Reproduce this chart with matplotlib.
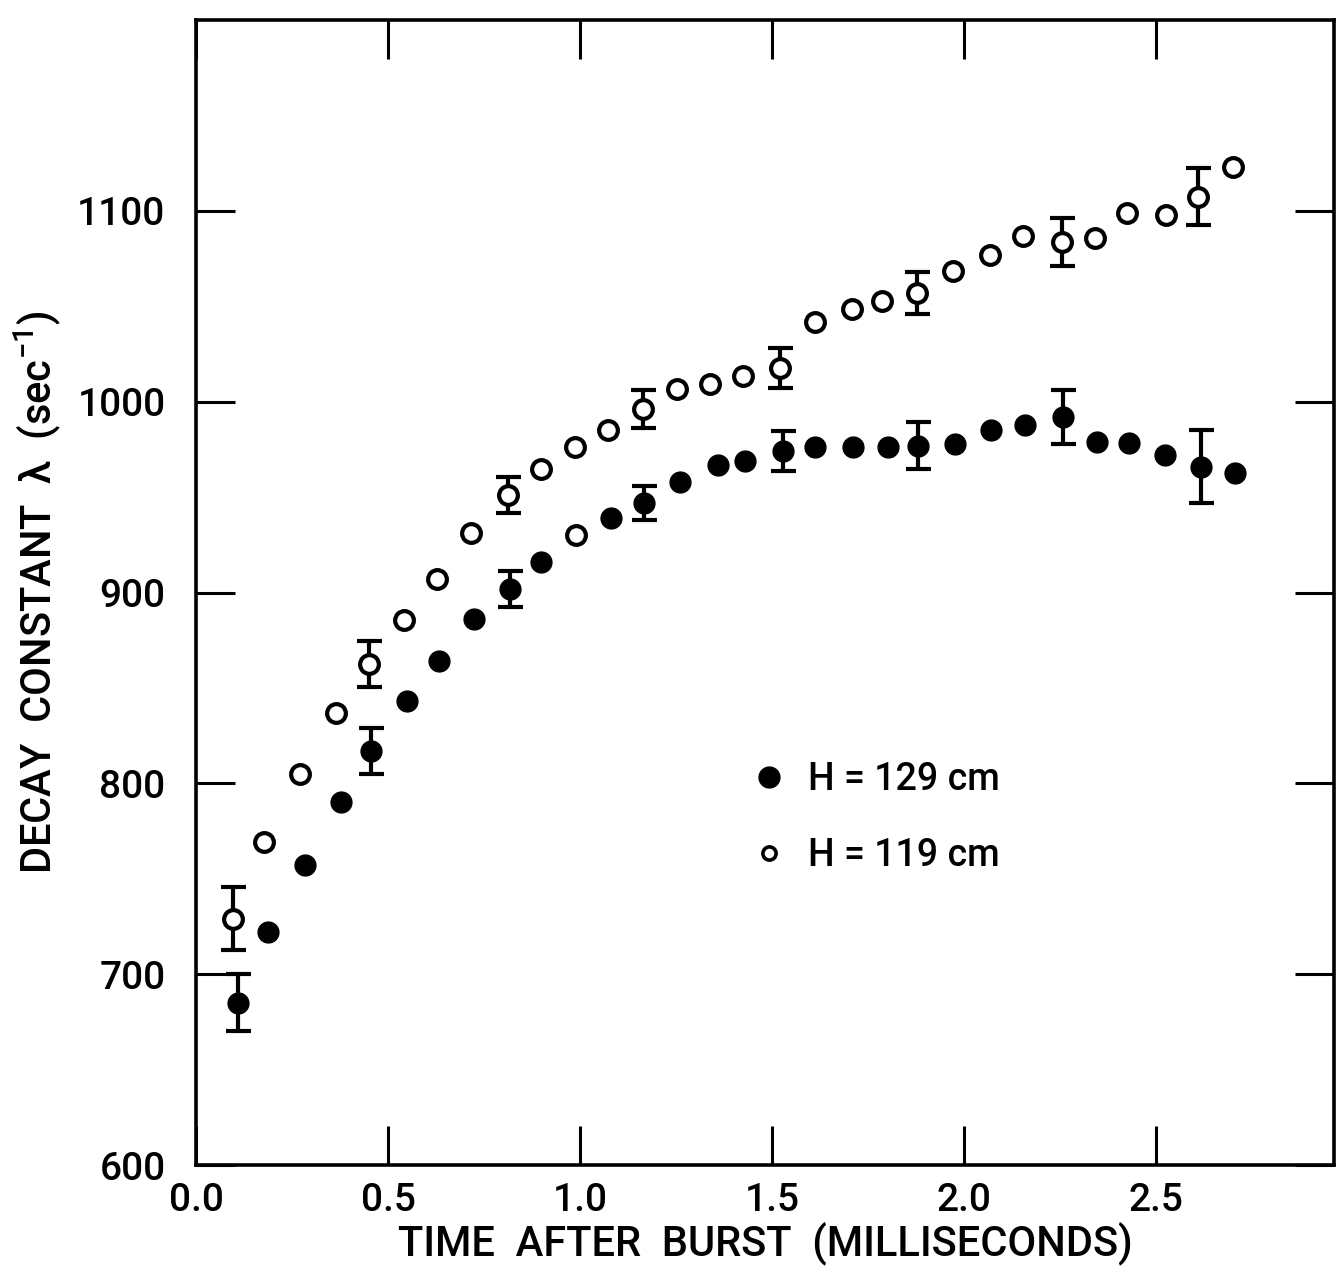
import matplotlib
matplotlib.use("Agg")
import matplotlib.pyplot as plt
from matplotlib.lines import Line2D
import numpy as np

# H = 129 cm (filled circles); time in ms, decay constant in 1/sec
t_129 = [0.109, 0.188, 0.284, 0.378, 0.456, 0.549, 0.633, 0.724, 0.818, 0.898,
         0.990, 1.081, 1.167, 1.260, 1.359, 1.430, 1.529, 1.612, 1.711, 1.802,
         1.880, 1.977, 2.070, 2.159, 2.258, 2.346, 2.430, 2.523, 2.617, 2.706]
lam_129 = [685, 722, 757, 790, 817, 843, 864, 886, 902, 916,
           930, 939, 947, 958, 967, 969, 974, 976, 976, 976.5,
           977, 978, 985, 988, 992, 979, 978.5, 972, 966, 962.5]
err_129 = [15, 0, 0, 0, 12, 0, 0, 0, 9.5, 0,
           0, 0, 9, 0, 0, 0, 10.5, 0, 0, 0,
           12.5, 0, 0, 0, 14, 0, 0, 0, 19, 0]
# this one point came out hollow in the print
hollow_129 = [10]

# H = 119 cm (open circles)
t_119 = [0.096, 0.177, 0.271, 0.365, 0.450, 0.542, 0.628, 0.716, 0.813, 0.898,
         0.987, 1.073, 1.164, 1.253, 1.339, 1.424, 1.521, 1.612, 1.708, 1.786,
         1.878, 1.971, 2.068, 2.154, 2.255, 2.341, 2.424, 2.526, 2.609, 2.700]
lam_119 = [729, 769, 805, 837, 862.5, 885.5, 907, 931, 951, 964.5,
           976, 985, 996, 1006.5, 1009, 1013.5, 1017.5, 1042, 1048.5, 1052.5,
           1057, 1068.5, 1077, 1087, 1083.5, 1086, 1099, 1098, 1107.5, 1123]
err_119 = [16.5, 0, 0, 0, 12, 0, 0, 0, 9.5, 0,
           0, 0, 10, 0, 0, 0, 10.5, 0, 0, 0,
           11, 0, 0, 0, 12.5, 0, 0, 0, 15, 0]

x_ticks = [0.0, 0.5, 1.0, 1.5, 2.0, 2.5]
x_ticklabels = ["0.0", "0.5", "1.0", "1.5", "2.0", "2.5"]
y_ticks = [600, 700, 800, 900, 1000, 1100]

plt.rcParams["font.family"] = ["Roboto", "DejaVu Sans"]
plt.rcParams["font.weight"] = "medium"
plt.rcParams["axes.labelweight"] = "medium"
plt.rcParams["mathtext.default"] = "regular"

W, H = 1336, 1266
fig = plt.figure(figsize=(W / 100, H / 100), dpi=100)
ax = fig.add_axes([196 / W, 1 - 1165 / H, (1334 - 196) / W, (1165 - 20) / H])
ax.set_xlim(0, 2.964)
ax.set_ylim(600, 1200)


def with_errors(t, lam, err):
    t, lam, err = np.asarray(t), np.asarray(lam), np.asarray(err)
    m = err > 0
    return t[m], lam[m], err[m]


for t, lam, err in [(t_129, lam_129, err_129), (t_119, lam_119, err_119)]:
    te, le, ee = with_errors(t, lam, err)
    ax.errorbar(te, le, yerr=ee, fmt="none", ecolor="black", elinewidth=3,
                capsize=9, capthick=3, zorder=2)

solid = [i for i in range(len(t_129)) if i not in hollow_129]
ax.plot([t_129[i] for i in solid], [lam_129[i] for i in solid], "o", ms=15,
        color="black", zorder=3)
ax.plot([t_129[i] for i in hollow_129], [lam_129[i] for i in hollow_129], "o",
        ms=13.5, mfc="white", mec="black", mew=3, zorder=3)
ax.plot(t_119, lam_119, "o", ms=13.5, mfc="white", mec="black", mew=3,
        zorder=3)

handles = [
    Line2D([], [], ls="none", marker="o", ms=15, color="black"),
    Line2D([], [], ls="none", marker="o", ms=9.5, mfc="white", mec="black",
           mew=2.6),
]
ax.legend(handles, ["H = 129 cm", "H = 119 cm"], loc="center left",
          bbox_to_anchor=(0.487, 0.3035), frameon=False, fontsize=27,
          handlelength=1.0, handletextpad=0.55, labelspacing=1.05,
          borderpad=0, borderaxespad=0)

ax.set_xticks(x_ticks)
ax.set_xticklabels(x_ticklabels)
ax.set_yticks(y_ticks)
ax.tick_params(direction="in", length=28, width=2.2, top=True, right=True,
               labelsize=28, colors="black")
ax.tick_params(axis="x", pad=12)
ax.tick_params(axis="y", pad=22)
for s in ax.spines.values():
    s.set_linewidth(2.6)

ax.set_xlabel("TIME  AFTER  BURST  (MILLISECONDS)", fontsize=30, labelpad=2)
ax.set_ylabel("DECAY  CONSTANT  λ  (sec$^{-1}$)", fontsize=30, labelpad=10)

fig.savefig("out.png", dpi=100)
